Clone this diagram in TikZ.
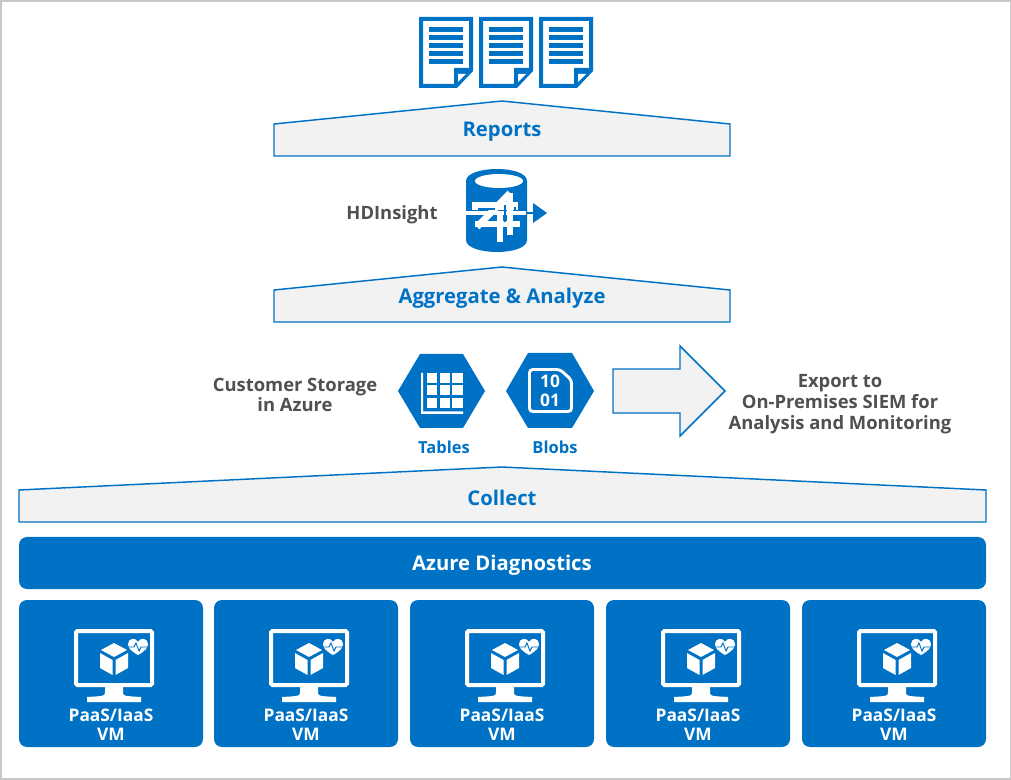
\documentclass[tikz,border=0pt]{standalone}
\usepackage{fontspec}
\setmainfont{Open Sans}
\usetikzlibrary{positioning}
\definecolor{azblue}{RGB}{0,114,198}
\definecolor{roofgray}{RGB}{242,242,242}
\definecolor{txtgray}{RGB}{80,80,80}
\definecolor{framegray}{RGB}{200,200,200}
\tikzset{
  roof/.style={draw=azblue,fill=roofgray,line width=1.1pt},
  roofname/.style={text=azblue,font=\fontsize{15.2}{18}\selectfont\bfseries,inner sep=0pt},
  sidetext/.style={text=txtgray,font=\fontsize{13.8}{15.6}\selectfont\bfseries,align=center,inner sep=0pt},
  hexname/.style={text=azblue,font=\fontsize{12.4}{14}\selectfont\bfseries,inner sep=0pt},
  vmname/.style={text=white,font=\fontsize{13}{14.6}\selectfont\bfseries,align=center,inner sep=0pt},
  panel/.style={fill=azblue,rounded corners=6pt},
  pics/report/.style={code={
    \fill[azblue,even odd rule] (0,0) -- (54,0) -- (54,54) -- (38,71) -- (0,71) -- cycle
      (4,4) -- (4,67) -- (35,67) -- (35,51) -- (50,51) -- (50,4) -- cycle;
    \fill[white] (39,57) -- (47,57) -- (39,65) -- cycle;
    \foreach \y in {10,18,26,34,42}
      \fill[azblue] (10,\y) rectangle (44,\y+5);
  }},
  pics/vmicon/.style={code={
    \draw[white,line width=3pt,rounded corners=1pt] (-38,-27) rectangle (38,27);
    \fill[white] (-9,29) -- (9,29) -- (9,34) .. controls (9,38) .. (27,39) -- (27,44) -- (-27,44) -- (-27,39) .. controls (-9,38) .. (-9,34) -- cycle;
    % cube
    \fill[white] (-13,-8) -- (0,-15) -- (13,-8) -- (0,-1) -- cycle;
    \fill[white] (-14,-5) -- (-1.5,2) -- (-1.5,17) -- (-14,10) -- cycle;
    \fill[white] (14,-5) -- (1.5,2) -- (1.5,17) -- (14,10) -- cycle;
    % heart
    \fill[white] (24,-3) .. controls (17,-7) and (14,-10) .. (14,-14) .. controls (14,-20) and (22,-21) .. (24,-16) .. controls (26,-21) and (34,-20) .. (34,-14) .. controls (34,-10) and (31,-7) .. (24,-3) -- cycle;
    \draw[azblue,line width=0.7pt] (13,-11) -- (20,-11) -- (22,-15) -- (25,-7) -- (27,-11) -- (35,-11);
  }}
}
\begin{document}
\begin{tikzpicture}[x=0.75pt,y=-0.75pt]
\fill[framegray] (0,0) rectangle (1011,780);
\fill[white] (2,2) rectangle (1010,778);
% report icons
\pic at (419,17) {report};
\pic at (479,17) {report};
\pic at (539,17) {report};
% roofs
\draw[roof] (274,156) -- (274,124) -- (502,101) -- (730,124) -- (730,156) -- cycle;
\draw[roof] (274,322) -- (274,290) -- (502,267) -- (730,290) -- (730,322) -- cycle;
\draw[roof] (19,522) -- (19,490) -- (502,467) -- (986,490) -- (986,522) -- cycle;
\node[roofname] (reports) at (502,132) {Reports};
\node[roofname] (aggregate) at (502,298) {Aggregate \& Analyze};
\node[roofname] (collect) at (502,498) {Collect};
% hdinsight
\node[sidetext] (hdinsight) at (392,215) {HDInsight};
\fill[azblue] (466,181) .. controls (466,173) and (482,169) .. (497,169) .. controls (512,169) and (527,173) .. (527,181)
  -- (527,240) .. controls (527,248) and (512,252) .. (497,252) .. controls (482,252) and (466,248) .. (466,240) -- cycle;
\fill[white] (499,181) ellipse (24 and 7);
\draw[azblue,line width=2pt] (525,213) -- (536,213);
\fill[azblue] (533,203) -- (547,213) -- (533,223) -- cycle;
\begin{scope}[white]
  \draw[line width=5.5pt] (472,206) -- (518,206);
  \draw[line width=5pt] (475,224) -- (520,224);
  \draw[line width=2.6pt] (465,213) -- (526,213);
  \draw[line width=5pt] (510,193) -- (477,227);
  \draw[line width=4.5pt] (500,213) -- (500,242);
  \draw[line width=4pt] (510,193) -- (510,235);
\end{scope}
\fill[azblue] (478,208) rectangle (495,210);
\fill[azblue] (504,205) rectangle (506,222);
\fill[azblue] (514,207) rectangle (516,211);
% storage
\node[sidetext] (storage) at (295,395) {Customer Storage\\in Azure};
\fill[azblue] (398,391) -- (420,354) -- (463,354) -- (485,391) -- (463,428) -- (420,428) -- cycle;
\fill[azblue] (506,391) -- (528,353) -- (572,353) -- (594,391) -- (572,428) -- (528,428) -- cycle;
\foreach \i in {0,1,2} \foreach \j in {0,1,2}
  \fill[white] (427+\i*12.7,373+\j*12.3) rectangle ++(10.2,10);
\fill[white] (421,373) -- (423,373) -- (423,411.5) -- (463,411.5) -- (463,414) -- (421,414) -- cycle;
\draw[white,line width=2.2pt,rounded corners=2.5pt] (529.5,369.5) -- (560,369.5) -- (571.5,380) -- (571.5,411.5) -- (529.5,411.5) -- cycle;
\node[text=white,font=\fontsize{13}{14}\selectfont\bfseries,align=center,inner sep=0pt] (bits) at (550,391) {10\\01};
\node[hexname] (tables) at (444,447) {Tables};
\node[hexname] (blobs) at (555,447) {Blobs};
% export
\draw[roof] (613,369) -- (680,369) -- (680,346) -- (725,391) -- (680,436) -- (680,413) -- (613,413) -- cycle;
\node[sidetext] (export) at (840,404) {Export to\\On-Premises SIEM for\\Analysis and Monitoring};
% diagnostics
\fill[panel] (19,537) rectangle (986,589);
\node[text=white,font=\fontsize{15.2}{18}\selectfont\bfseries,inner sep=0pt] (diag) at (502,565) {Azure Diagnostics};
% vms
\foreach \x/\c in {19/111,214/306,410/502,606/698,802/894} {
  \fill[panel] (\x,600) rectangle ++(184,147);
  \pic at (\c+3,658) {vmicon};
  \node[vmname] at (\c,724.5) {PaaS/IaaS\\VM};
}
\end{tikzpicture}
\end{document}
